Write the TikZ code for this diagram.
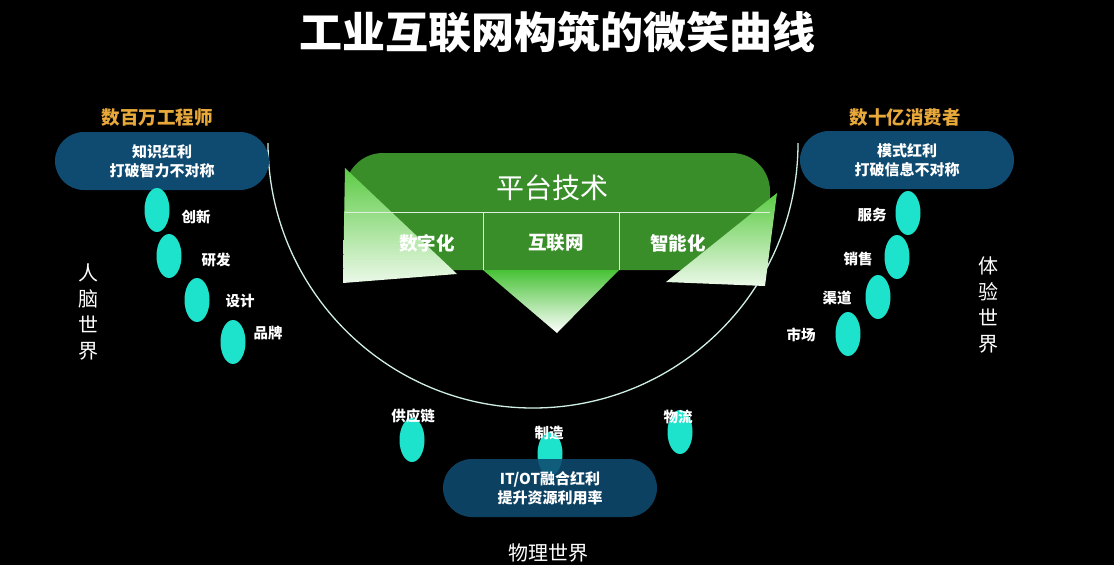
\documentclass[tikz,border=0pt]{standalone}
\usepackage{fontspec}
\newfontfamily\cjk{Noto Sans CJK SC}
\usetikzlibrary{shapes.geometric}
\definecolor{pgreen}{HTML}{3A8E2A}
\definecolor{lgreen}{HTML}{5CCB44}
\definecolor{tgreen}{HTML}{48C236}
\definecolor{pillblue}{HTML}{0F4A70}
\definecolor{beadcyan}{HTML}{1EE3CC}
\definecolor{gold}{HTML}{E8A83A}
\definecolor{arccol}{HTML}{CFEFE2}
\begin{document}
\begin{tikzpicture}[x=1pt,y=-1pt,
  pill/.style={rectangle, rounded corners=29pt, minimum width=214pt, minimum height=58pt,
    fill=pillblue, text=white, align=center, inner sep=0pt,
    font=\cjk\bfseries\fontsize{15}{19}\selectfont},
  bead/.style={ellipse, fill=beadcyan, minimum width=25pt, minimum height=44pt, inner sep=0pt},
  lbl/.style={text=white, inner sep=1pt, font=\cjk\bfseries\fontsize{14.5}{16}\selectfont},
  head/.style={text=gold, inner sep=1pt, font=\cjk\bfseries\fontsize{18.5}{20}\selectfont},
  world/.style={text=white, align=center, inner sep=1pt, font=\cjk\fontsize{20}{26}\selectfont},
  cell/.style={text=white, inner sep=1pt, font=\cjk\bfseries\fontsize{18.5}{20}\selectfont}]
\fill[black] (0,0) rectangle (1114,565);
\useasboundingbox (0,0) rectangle (1114,565);

% title
\node[text=white, font=\cjk\bfseries\fontsize{43}{46}\selectfont] (title) at (557,32) {工业互联网构筑的微笑曲线};

% smile arc
\draw[arccol, line width=1.3pt] (268,143) arc[start angle=180, end angle=0, radius=265];

% platform
\fill[pgreen, rounded corners=38pt] (345,270) -- (345,153) -- (770,153) -- (770,270) -- cycle;
\shade[top color=tgreen, bottom color=white] (483,270) -- (619,270) -- (557,333) -- cycle;
\shade[top color=lgreen, bottom color=white!88!lgreen] (345,168) -- (457,274) -- (343,283) -- cycle;
\shade[top color=lgreen, bottom color=white!88!lgreen] (777,193) -- (765,286) -- (666,282) -- cycle;
\draw[white!85!pgreen, line width=0.9pt] (345,212) -- (770,212);
\draw[white!85!pgreen, line width=0.9pt] (483,212) -- (483,270);
\draw[white!85!pgreen, line width=0.9pt] (619,212) -- (619,270);
\node[text=white, font=\cjk\fontsize{28}{30}\selectfont] (plat) at (552,188) {平台技术};
\node[cell] (c1) at (427,243) {数字化};
\node[cell] (c2) at (556,243) {互联网};
\node[cell] (c3) at (678,243) {智能化};

% left: engineers
\node[head] (engh) at (157,118) {数百万工程师};
\node[pill] (engp) at (162,161) {知识红利\\打破智力不对称};
\node[bead] (b1) at (157,210) {};
\node[bead] (b2) at (169,256) {};
\node[bead] (b3) at (197,300) {};
\node[bead] (b4) at (233,342) {};
\node[lbl] (l1) at (196,217) {创新};
\node[lbl] (l2) at (216,260) {研发};
\node[lbl] (l3) at (240,301) {设计};
\node[lbl] (l4) at (268,333) {品牌};
\node[world] (wl) at (88,312) {人\\脑\\世\\界};

% right: consumers
\node[head] (conh) at (905,118) {数十亿消费者};
\node[pill] (conp) at (907,160) {模式红利\\打破信息不对称};
\node[bead] (r1) at (908,213) {};
\node[bead] (r2) at (897,257) {};
\node[bead] (r3) at (878,297) {};
\node[bead] (r4) at (848,334) {};
\node[lbl] (m1) at (872,215) {服务};
\node[lbl] (m2) at (858,259) {销售};
\node[lbl] (m3) at (837,298) {渠道};
\node[lbl] (m4) at (801,335) {市场};
\node[world] (wr) at (988,305) {体\\验\\世\\界};

% bottom: physical world
\node[bead] (p1) at (412,440) {};
\node[bead] (p2) at (550,454) {};
\node[bead] (p3) at (680,432) {};
\node[pill, fill opacity=0.88, text opacity=1] (itp) at (550,488) {IT/OT融合红利\\提升资源利用率};
\node[lbl] (q1) at (413,416) {供应链};
\node[lbl] (q2) at (549,433) {制造};
\node[lbl] (q3) at (678,417) {物流};
\node[text=white, font=\cjk\fontsize{20}{24}\selectfont] (wb) at (548,553) {物理世界};
\end{tikzpicture}
\end{document}
